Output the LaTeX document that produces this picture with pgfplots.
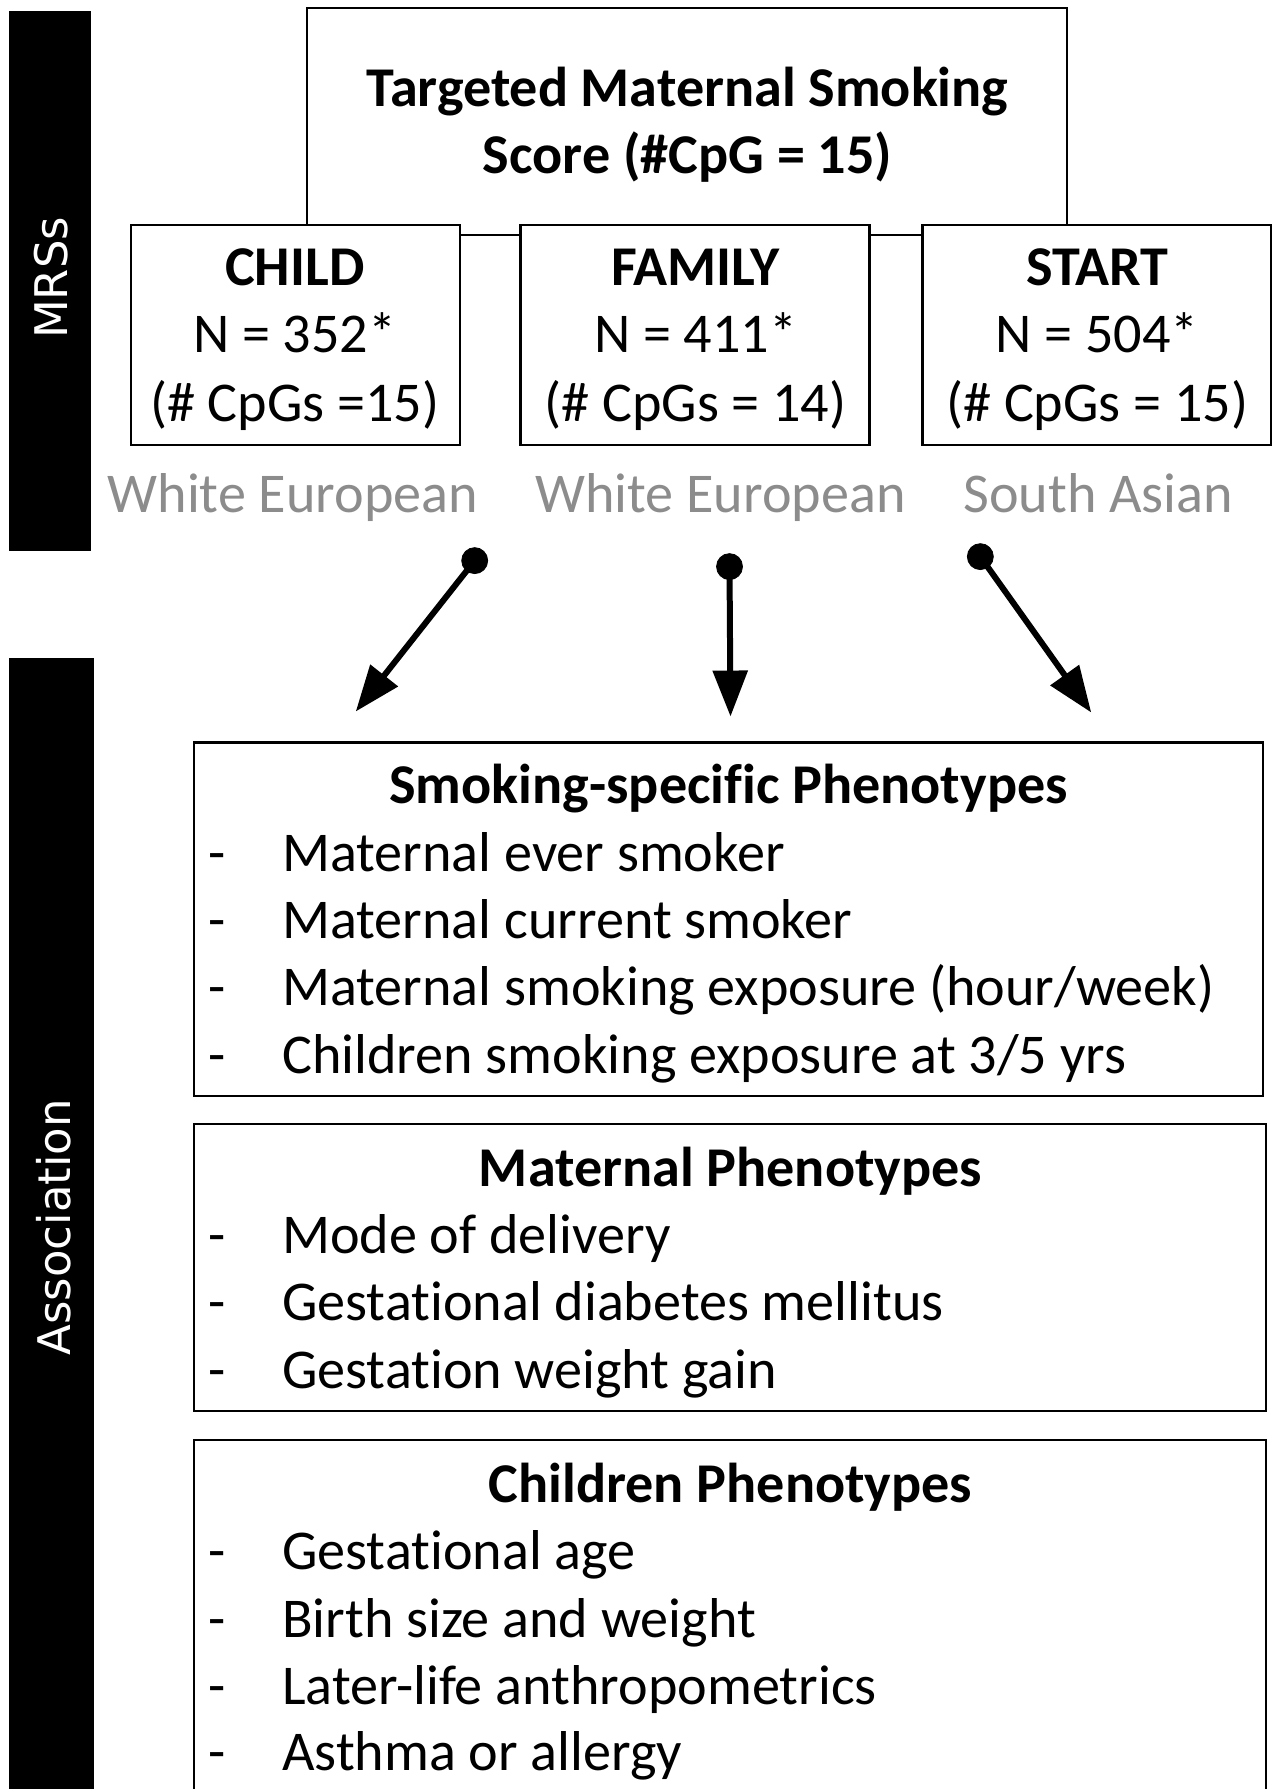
\documentclass[border=0pt]{standalone}
\usepackage{fontspec}
\setmainfont{Carlito}[Ligatures={NoCommon,NoRequired,NoContextual}]
\newfontfamily\dejavu{DejaVu Sans}
\usepackage{pgfplots}
\pgfplotsset{compat=1.18}
\usetikzlibrary{arrows.meta}
\definecolor{graytxt}{RGB}{140,140,140}
\newcommand{\fs}{\fontsize{28.1pt}{34pt}\selectfont}
\begin{document}
\begin{tikzpicture}
\begin{axis}[width=642.5pt,height=895pt,scale only axis,
  xmin=0,xmax=1285,ymin=0,ymax=1790,y dir=reverse,
  axis lines=none,clip=false]
\path (axis cs:0,0) rectangle (axis cs:1285,1790);
% side bars
\fill[black] (axis cs:9,11) rectangle (axis cs:91,551);
\fill[black] (axis cs:9,658) rectangle (axis cs:94,1790);
\node[rotate=90,text=white,font=\dejavu\fontsize{22.5pt}{27pt}\selectfont] at (axis cs:51,278) {MRSs};
\node[rotate=90,text=white,font=\dejavu\fontsize{22.5pt}{27pt}\selectfont] at (axis cs:54,1228) {Association};
% top box
\draw[line width=1pt] (axis cs:307,8) rectangle (axis cs:1068,235);
\node[anchor=base,font=\fs\bfseries] at (axis cs:688,107) {Targeted Maternal Smoking};
\node[anchor=base,font=\fs\bfseries] at (axis cs:688,174) {Score (\#CpG = 15)};
% cohort boxes
\draw[line width=1.2pt,fill=white] (axis cs:131,225) rectangle (axis cs:460,445);
\draw[line width=1.2pt,fill=white] (axis cs:521,225) rectangle (axis cs:870,445);
\draw[line width=1.2pt,fill=white] (axis cs:923,225) rectangle (axis cs:1272,445);
\node[anchor=base,font=\fs\bfseries] at (axis cs:295,286) {CHILD};
\node[anchor=base,font=\fs] at (axis cs:295,353) {N = 352*};
\node[anchor=base,font=\fs] at (axis cs:295,422) {(\# CpGs =15)};
\node[anchor=base,font=\fs\bfseries] at (axis cs:696,286) {FAMILY};
\node[anchor=base,font=\fs] at (axis cs:696,353) {N = 411*};
\node[anchor=base,font=\fs] at (axis cs:696,422) {(\# CpGs = 14)};
\node[anchor=base,font=\fs\bfseries] at (axis cs:1098,286) {START};
\node[anchor=base,font=\fs] at (axis cs:1098,353) {N = 504*};
\node[anchor=base,font=\fs] at (axis cs:1098,422) {(\# CpGs = 15)};
\node[anchor=base,font=\fs,text=graytxt] at (axis cs:293,513) {White European};
\node[anchor=base,font=\fs,text=graytxt] at (axis cs:721,513) {White European};
\node[anchor=base,font=\fs,text=graytxt] at (axis cs:1099,513) {South Asian};
% arrows
\draw[line width=3pt,-{Triangle[length=23pt,width=17pt]}] (axis cs:475,561) -- (axis cs:356,712);
\draw[line width=3pt,-{Triangle[length=23pt,width=17pt]}] (axis cs:730,567) -- (axis cs:731,717);
\draw[line width=3pt,-{Triangle[length=23pt,width=17pt]}] (axis cs:981,557) -- (axis cs:1092,713);
\addplot[only marks,mark=*,mark size=6.5pt,black] coordinates {(475,561) (730,567) (981,557)};
% phenotype boxes
\draw[line width=1.2pt] (axis cs:194,743) rectangle (axis cs:1264,1097);
\node[anchor=base,font=\fs\bfseries] at (axis cs:729,804) {Smoking-specific Phenotypes};
\node[anchor=base,font=\fs] at (axis cs:217,872) {-};
\node[anchor=base west,font=\fs,inner xsep=0pt] at (axis cs:282,872) {Maternal ever smoker};
\node[anchor=base,font=\fs] at (axis cs:217,939) {-};
\node[anchor=base west,font=\fs,inner xsep=0pt] at (axis cs:282,939) {Maternal current smoker};
\node[anchor=base,font=\fs] at (axis cs:217,1006) {-};
\node[anchor=base west,font=\fs,inner xsep=0pt] at (axis cs:282,1006) {Maternal smoking exposure (hour/week)};
\node[anchor=base,font=\fs] at (axis cs:217,1074) {-};
\node[anchor=base west,font=\fs,inner xsep=0pt] at (axis cs:282,1074) {Children smoking exposure at 3/5 yrs};
\draw[line width=1.2pt] (axis cs:194,1125) rectangle (axis cs:1267,1412);
\node[anchor=base,font=\fs\bfseries] at (axis cs:731,1187) {Maternal Phenotypes};
\node[anchor=base,font=\fs] at (axis cs:217,1254) {-};
\node[anchor=base west,font=\fs,inner xsep=0pt] at (axis cs:282,1254) {Mode of delivery};
\node[anchor=base,font=\fs] at (axis cs:217,1321) {-};
\node[anchor=base west,font=\fs,inner xsep=0pt] at (axis cs:282,1321) {Gestational diabetes mellitus};
\node[anchor=base,font=\fs] at (axis cs:217,1389) {-};
\node[anchor=base west,font=\fs,inner xsep=0pt] at (axis cs:282,1389) {Gestation weight gain};
\draw[line width=1.2pt] (axis cs:194,1790) -- (axis cs:194,1441) -- (axis cs:1267,1441) -- (axis cs:1267,1790);
\node[anchor=base,font=\fs\bfseries] at (axis cs:731,1503) {Children Phenotypes};
\node[anchor=base,font=\fs] at (axis cs:217,1571) {-};
\node[anchor=base west,font=\fs,inner xsep=0pt] at (axis cs:282,1571) {Gestational age};
\node[anchor=base,font=\fs] at (axis cs:217,1639) {-};
\node[anchor=base west,font=\fs,inner xsep=0pt] at (axis cs:282,1639) {Birth size and weight};
\node[anchor=base,font=\fs] at (axis cs:217,1706) {-};
\node[anchor=base west,font=\fs,inner xsep=0pt] at (axis cs:282,1706) {Later-life anthropometrics};
\node[anchor=base,font=\fs] at (axis cs:217,1772) {-};
\node[anchor=base west,font=\fs,inner xsep=0pt] at (axis cs:282,1772) {Asthma or allergy};
\end{axis}
\end{tikzpicture}
\end{document}
